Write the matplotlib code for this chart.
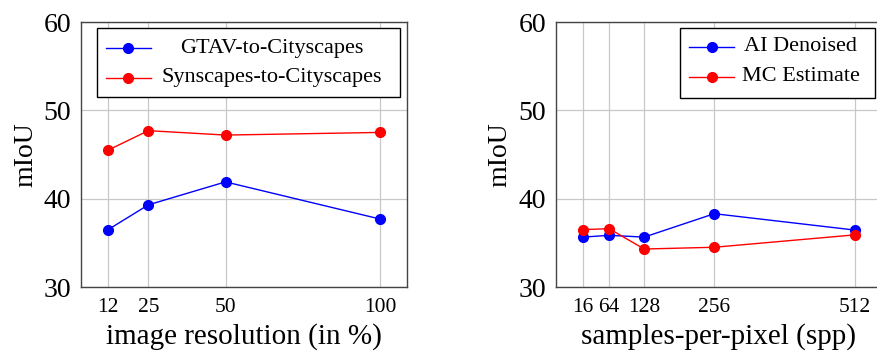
import matplotlib.pyplot as plt
from matplotlib.patches import Rectangle

plt.rcParams['font.family'] = ['Liberation Serif', 'DejaVu Serif']

# Left panel: image resolution
res_x = [12, 25, 50, 100]
gtav = [36.5, 39.3, 41.9, 37.7]
synscapes = [45.5, 47.7, 47.2, 47.5]

# Right panel: samples per pixel
spp_x = [16, 64, 128, 256, 512]
ai_denoised = [35.65, 35.85, 35.65, 38.3, 36.45]
mc_estimate = [36.5, 36.6, 34.3, 34.5, 35.9]

fig = plt.figure(figsize=(8.78, 3.56), dpi=100)
ax1 = fig.add_axes([0.0923, 0.1938, 0.3713, 0.7444])
ax2 = fig.add_axes([0.6329, 0.1938, 0.3713, 0.7444])


def style(ax, xs, ticks, xlabel):
    lo, hi = min(xs), max(xs)
    pad = 0.1 * (hi - lo)
    ax.set_xlim(lo - pad, hi + pad)
    ax.set_ylim(30, 60)
    ax.set_xticks(ticks)
    ax.set_yticks([30, 40, 50, 60])
    ax.grid(True, color='#c8c8c8', linewidth=0.9)
    ax.set_axisbelow(True)
    ax.tick_params(axis='y', labelsize=20, length=0, pad=7)
    ax.tick_params(axis='x', labelsize=15.5, length=0, pad=8)
    for s in ax.spines.values():
        s.set_color('#444444')
        s.set_linewidth(1.0)
    ax.set_xlabel(xlabel, fontsize=21, labelpad=4)
    ax.set_ylabel('mIoU', fontsize=20, labelpad=4)


def legend_box(ax, x0, x1, y0, y1, xh0, xh1, xm, xt, ys, labels, colors):
    ax.add_patch(Rectangle((x0, y0), x1 - x0, y1 - y0, transform=ax.transAxes,
                           facecolor='white', edgecolor='black', linewidth=1.0,
                           zorder=5, clip_on=False))
    for y, lab, c in zip(ys, labels, colors):
        ax.plot([xh0, xh1], [y, y], color=c, linewidth=1.0, transform=ax.transAxes,
                zorder=6, clip_on=False)
        ax.plot([xm], [y], 'o', color=c, markersize=7, transform=ax.transAxes,
                zorder=6, clip_on=False)
        ax.text(xt, y, lab, transform=ax.transAxes, ha='center', va='center',
                fontsize=16, zorder=7)


ax1.plot(res_x, gtav, '-o', color='blue', linewidth=1.0, markersize=7, zorder=3)
ax1.plot(res_x, synscapes, '-o', color='red', linewidth=1.0, markersize=7, zorder=3)
style(ax1, res_x, res_x, 'image resolution (in %)')
legend_box(ax1, 0.049, 0.979, 0.717, 0.977, 0.077, 0.215, 0.145, 0.584,
           [0.901, 0.790], ['GTAV-to-Cityscapes', 'Synscapes-to-Cityscapes'],
           ['blue', 'red'])

ax2.plot(spp_x, ai_denoised, '-o', color='blue', linewidth=1.0, markersize=7, zorder=3)
ax2.plot(spp_x, mc_estimate, '-o', color='red', linewidth=1.0, markersize=7, zorder=3)
style(ax2, spp_x, spp_x, 'samples-per-pixel (spp)')
legend_box(ax2, 0.381, 0.979, 0.713, 0.977, 0.410, 0.547, 0.478, 0.751,
           [0.907, 0.794], ['AI Denoised', 'MC Estimate'], ['blue', 'red'])

fig.savefig('out.png', dpi=100)
